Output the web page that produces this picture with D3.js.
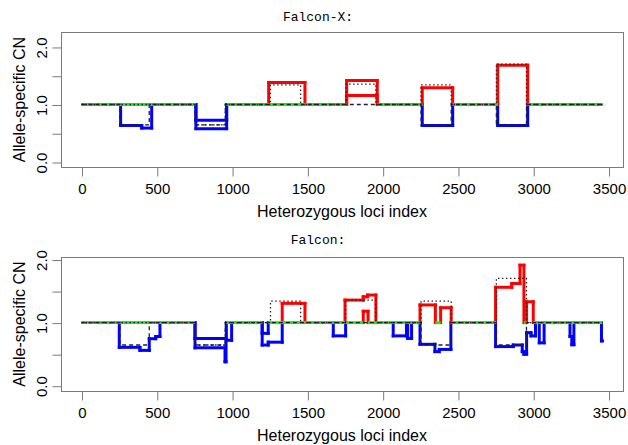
<!DOCTYPE html>
<html><head><meta charset="utf-8">
<script src="https://cdn.jsdelivr.net/npm/d3@7"></script>
<style>body{margin:0;background:#fff} svg{display:block}</style>
</head><body>
<svg id="chart" width="628" height="445"></svg>
<script>
// ---------- data ----------
const panelTitles = ["Falcon-X:", "Falcon:"];
const xTickValues = [0, 500, 1000, 1500, 2000, 2500, 3000, 3500];
const yTickValues = [0, 0.5, 1, 1.5, 2];
const yTickLabels = ["0.0", "", "1.0", "", "2.0"];
const xLabel = "Heterozygous loci index";
const yLabel = "Allele-specific CN";

// true allele-specific copy numbers (shared by both panels)
const truthMinorBreaks = [0, 255, 450, 755, 955, 2255, 2455, 2755, 2955, 3460];
const truthMinorCN     = [1, 0.645, 1, 0.645, 1, 0.645, 1, 0.645, 1];
const truthMajorBreaks = [0, 755, 955, 1255, 1455, 1755, 1955, 2255, 2455, 2755, 2955, 3460];
const truthMajorCN     = [1, 0.645, 1, 1.34, 1, 1.355, 1, 1.34, 1, 1.70, 1];

// Falcon-X estimates
const fxMinorBreaks = [0, 260, 400, 466, 760, 964, 1761, 1964, 2263, 2465, 2764, 2963, 3460];
const fxMinorCN     = [1, 0.635, 0.59, 1, 0.58, 1, 1.157, 1, 0.635, 1, 0.635, 1];
const fxMajorBreaks = [0, 760, 964, 1243, 1484, 1761, 1964, 2263, 2465, 2764, 2963, 3460];
const fxMajorCN     = [1, 0.727, 1, 1.383, 1, 1.417, 1, 1.29, 1, 1.683, 1];

// Falcon estimates
const fMinorBreaks = [0, 251, 388, 450, 493, 521, 754, 953, 960, 997, 1200, 1240, 1333, 1672, 1754, 1871, 1903, 2070, 2158, 2166,
                      2192, 2248, 2347, 2376, 2453, 2750, 2867, 2927, 2938, 2956, 2985, 3015, 3040, 3072, 3244, 3256, 3270, 3453, 3460];
const fMinorCN     = [1, 0.608, 0.56, 0.745, 0.78, 1, 0.60, 0.38, 0.72, 1, 0.645, 0.69, 1, 0.79, 1, 1.18, 1, 0.79, 1,
                      0.75, 1, 0.656, 0.54, 0.575, 1, 0.62, 0.645, 0.54, 0.50, 0.84, 0.79, 1, 0.68, 1, 0.78, 0.65, 1, 0.71];
const fMajorBreaks = [0, 754, 962, 1200, 1240, 1333, 1484, 1750, 1871, 1900, 1955, 2248, 2350, 2385, 2455, 2750, 2857, 2912, 2938, 2956, 3000, 3460];
const fMajorCN     = [1, 0.75, 1, 0.83, 1, 1.305, 1, 1.357, 1.41, 1.437, 1, 1.28, 1, 1.236, 1, 1.56, 1.62, 1.91, 1, 1.33, 1];

// ---------- drawing ----------
const svg = d3.select("#chart");
svg.append("rect").attr("width", 628).attr("height", 445).attr("fill", "#fff");

const x = d3.scaleLinear().domain([-136, 3596]).range([61, 623]);
const BLUE = "#0000ff", RED = "#ff0000", GREEN = "#00ff00";
const sansFont = "'Liberation Sans', Arial, sans-serif";

const panels = [
  {title: panelTitles[0], top: 32, bottom: 167, yDomain: [-0.087, 2.26], titleY: 21,
   minorB: fxMinorBreaks, minorV: fxMinorCN, majorB: fxMajorBreaks, majorV: fxMajorCN},
  {title: panelTitles[1], top: 257, bottom: 391, yDomain: [-0.084, 2.04], titleY: 244,
   minorB: fMinorBreaks, minorV: fMinorCN, majorB: fMajorBreaks, majorV: fMajorCN}
];

function colorOf(v) { return v < 1 ? BLUE : (v > 1 ? RED : GREEN); }

function stepPieces(breaks, vals) {
  const hs = [], vs = [];
  for (let i = 0; i < vals.length; i++) {
    hs.push({x0: breaks[i], x1: breaks[i + 1], v: vals[i]});
    if (i < vals.length - 1 && vals[i] !== vals[i + 1]) {
      const lo = Math.min(vals[i], vals[i + 1]), hi = Math.max(vals[i], vals[i + 1]);
      if (lo < 1) vs.push({x: breaks[i + 1], a: lo, b: Math.min(hi, 1), c: BLUE});
      if (hi > 1) vs.push({x: breaks[i + 1], a: Math.max(lo, 1), b: hi, c: RED});
    }
  }
  return {hs, vs};
}

panels.forEach(p => {
  const y = d3.scaleLinear().domain(p.yDomain).range([p.bottom, p.top]);
  const g = svg.append("g");

  // title
  g.append("text").attr("x", 318).attr("y", p.titleY).attr("text-anchor", "middle")
    .attr("font-family", "'Liberation Mono', 'Courier New', monospace").attr("font-size", 13)
    .attr("fill", "#000").text(p.title);

  // estimated lines
  const est = g.append("g").attr("fill", "none").attr("stroke-width", 3).attr("stroke-linecap", "square");
  [stepPieces(p.minorB, p.minorV), stepPieces(p.majorB, p.majorV)].forEach(sp => {
    sp.vs.forEach(d => est.append("line")
      .attr("x1", x(d.x)).attr("x2", x(d.x)).attr("y1", y(d.a)).attr("y2", y(d.b)).attr("stroke", d.c));
  });
  const hAll = stepPieces(p.minorB, p.minorV).hs.concat(stepPieces(p.majorB, p.majorV).hs);
  hAll.filter(d => d.v !== 1).forEach(d => est.append("line")
    .attr("x1", x(d.x0)).attr("x2", x(d.x1)).attr("y1", y(d.v)).attr("y2", y(d.v)).attr("stroke", colorOf(d.v)));
  hAll.filter(d => d.v === 1).forEach(d => est.append("line")
    .attr("x1", x(d.x0)).attr("x2", x(d.x1)).attr("y1", y(d.v)).attr("y2", y(d.v))
    .attr("stroke", GREEN).attr("stroke-linecap", "butt"));

  // truth lines
  const line = d3.line().x(d => x(d[0])).y(d => y(d[1])).curve(d3.curveStepAfter);
  const pts = (b, v) => b.map((bx, i) => [bx, i < v.length ? v[i] : v[v.length - 1]]);
  g.append("path").attr("d", line(pts(truthMinorBreaks, truthMinorCN)))
    .attr("fill", "none").attr("stroke", "#222").attr("stroke-width", 1.3).attr("stroke-dasharray", "4,3");
  g.append("path").attr("d", line(pts(truthMajorBreaks, truthMajorCN)))
    .attr("fill", "none").attr("stroke", "#222").attr("stroke-width", 1.3).attr("stroke-dasharray", "1.5,2.5");

  // box
  g.append("rect").attr("x", 61.5).attr("y", p.top + 0.5).attr("width", 562).attr("height", p.bottom - p.top)
    .attr("fill", "none").attr("stroke", "#7a7a7a").attr("stroke-width", 1);

  // x axis
  const xa = g.append("g").attr("transform", `translate(0.5,${p.bottom + 0.5})`)
    .call(d3.axisBottom(x).tickValues(xTickValues).tickSize(9).tickFormat(d3.format("d")));
  xa.select(".domain").remove();
  xa.selectAll(".tick line").attr("stroke", "#7a7a7a");
  xa.selectAll(".tick text").attr("y", 26.5).attr("dy", null)
    .attr("font-family", sansFont).attr("font-size", 15).attr("fill", "#000");

  // y axis
  const ya = g.append("g").attr("transform", `translate(61.5,0.5)`)
    .call(d3.axisLeft(y).tickValues(yTickValues).tickSize(9).tickFormat((d, i) => yTickLabels[i]));
  ya.select(".domain").remove();
  ya.selectAll(".tick line").attr("stroke", "#7a7a7a");
  ya.selectAll(".tick text").attr("x", null).attr("dy", null)
    .attr("transform", "translate(-14.5,0) rotate(-90)").attr("text-anchor", "middle")
    .attr("font-family", sansFont).attr("font-size", 15).attr("fill", "#000");

  // axis titles
  g.append("text").attr("x", 342).attr("y", p.bottom + 50).attr("text-anchor", "middle")
    .attr("font-family", sansFont).attr("font-size", 16).attr("fill", "#000").text(xLabel);
  g.append("text").attr("transform", `translate(24.5,${(p.top + p.bottom) / 2}) rotate(-90)`)
    .attr("text-anchor", "middle").attr("font-family", sansFont).attr("font-size", 16)
    .attr("fill", "#000").text(yLabel);
});
</script>
</body></html>
